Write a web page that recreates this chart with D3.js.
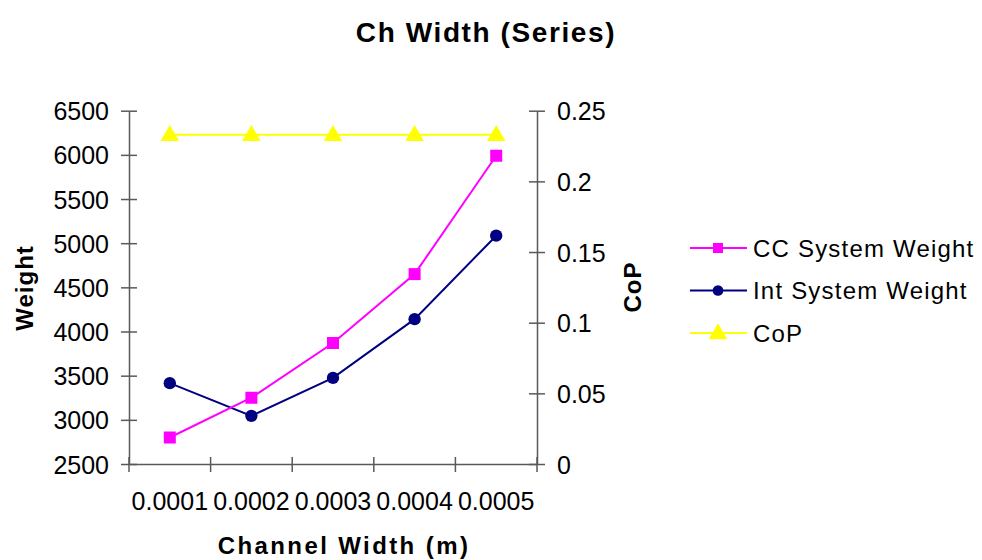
<!DOCTYPE html>
<html>
<head>
<meta charset="utf-8">
<script src="https://cdn.jsdelivr.net/npm/d3@7"></script>
<style>
  body { margin: 0; background: #fff; }
  svg { font-family: "Liberation Sans", Arial, sans-serif; }
</style>
</head>
<body>
<svg width="982" height="560"></svg>
<script>
// data
const widths = ["0.0001", "0.0002", "0.0003", "0.0004", "0.0005"];
const ccWeight = [2800, 3250, 3870, 4650, 5990];
const intWeight = [3415, 3045, 3475, 4140, 5085];
const cop = [0.233, 0.233, 0.233, 0.233, 0.233];
const weightTicks = [2500, 3000, 3500, 4000, 4500, 5000, 5500, 6000, 6500];
const copTicks = [0, 0.05, 0.1, 0.15, 0.2, 0.25];

const plot = { left: 129, right: 537, top: 110.7, bottom: 464 };
const axisColor = "#595959";

const svg = d3.select("svg");

const x = d3.scaleBand()
    .domain(widths)
    .range([plot.left, plot.right])
    .padding(0);

const yL = d3.scaleLinear()
    .domain([2500, 6500])
    .range([plot.bottom, plot.top]);

const yR = d3.scaleLinear()
    .domain([0, 0.25])
    .range([plot.bottom, plot.top]);

const cx = d => x(d) + x.bandwidth() / 2;

// title
svg.append("text")
    .attr("x", 486)
    .attr("y", 42)
    .attr("text-anchor", "middle")
    .style("font-size", "28px")
    .style("font-weight", "bold")
    .style("letter-spacing", "1.6px")
    .text("Ch Width (Series)");

function styleAxis(g, tickFrom, tickTo, vertical) {
    g.select(".domain").attr("stroke", axisColor).attr("stroke-width", 1.5);
    g.selectAll(".tick line")
        .attr("stroke", axisColor)
        .attr("stroke-width", 1.5)
        .attr(vertical ? "x1" : "y1", tickFrom)
        .attr(vertical ? "x2" : "y2", tickTo);
    g.selectAll(".tick text")
        .attr("fill", "#000")
        .style("font-size", "25px")
        .style("font-family", "'Liberation Sans', Arial, sans-serif");
}

// left axis
svg.append("g")
    .attr("transform", "translate(" + plot.left + ",0)")
    .call(d3.axisLeft(yL).tickValues(weightTicks).tickFormat(d3.format("d")).tickSize(8).tickPadding(12).tickSizeOuter(0))
    .call(g => styleAxis(g, -8, 8, true))
    .call(g => g.selectAll(".tick text").attr("dy", "0.36em"));

// right axis
svg.append("g")
    .attr("transform", "translate(" + plot.right + ",0)")
    .call(d3.axisRight(yR).tickValues(copTicks).tickFormat(d3.format("")).tickSize(8).tickPadding(12).tickSizeOuter(0))
    .call(g => styleAxis(g, -8, 8, true))
    .call(g => g.selectAll(".tick text").attr("dy", "0.36em"));

// bottom axis: labels at category centres, ticks at category edges
const xAxis = svg.append("g")
    .attr("transform", "translate(0," + plot.bottom + ")")
    .call(d3.axisBottom(x).tickSize(0).tickPadding(28).tickSizeOuter(0))
    .call(g => styleAxis(g, 0, 0, false));

xAxis.selectAll(".edge")
    .data(widths.map(d => x(d)).concat([x(widths[widths.length - 1]) + x.bandwidth()]))
    .enter()
    .append("line")
        .attr("class", "edge")
        .attr("x1", d => d)
        .attr("x2", d => d)
        .attr("y1", -7)
        .attr("y2", 8)
        .attr("stroke", axisColor)
        .attr("stroke-width", 1.5);

// axis titles
svg.append("text")
    .attr("transform", "translate(33,288) rotate(-90)")
    .attr("text-anchor", "middle")
    .style("font-size", "24px")
    .style("font-weight", "bold")
    .style("letter-spacing", "1px")
    .text("Weight");

svg.append("text")
    .attr("transform", "translate(641,287) rotate(-90)")
    .attr("text-anchor", "middle")
    .style("font-size", "24px")
    .style("font-weight", "bold")
    .style("letter-spacing", "1px")
    .text("CoP");

svg.append("text")
    .attr("x", 344)
    .attr("y", 554)
    .attr("text-anchor", "middle")
    .style("font-size", "24px")
    .style("font-weight", "bold")
    .style("letter-spacing", "2.4px")
    .text("Channel Width (m)");

// series
const series = [
    { name: "CC System Weight", values: ccWeight, scale: yL, color: "#FF00FF", shape: d3.symbolSquare, size: 144, legendSize: 100 },
    { name: "Int System Weight", values: intWeight, scale: yL, color: "#000080", shape: d3.symbolCircle, size: 120, legendSize: 90 },
    { name: "CoP", values: cop, scale: yR, color: "#FFFF00", shape: d3.symbolTriangle, size: 150, legendSize: 150 }
];

series.slice().reverse().forEach(s => {
    const pts = widths.map((w, i) => [cx(w), s.scale(s.values[i])]);
    svg.append("path")
        .datum(pts)
        .attr("fill", "none")
        .attr("stroke", s.color)
        .attr("stroke-width", 2)
        .attr("d", d3.line());
    svg.selectAll(null)
        .data(pts)
        .enter()
        .append("path")
            .attr("transform", d => "translate(" + d[0] + "," + (d[1] + (s.shape === d3.symbolTriangle ? 1 : 0)) + ")")
            .attr("d", d3.symbol().type(s.shape).size(s.size))
            .attr("fill", s.color);
});

// legend
const legend = svg.append("g");
series.forEach((s, i) => {
    const ly = 248 + i * 42.5;
    legend.append("line")
        .attr("x1", 690).attr("x2", 747)
        .attr("y1", ly).attr("y2", ly)
        .attr("stroke", s.color)
        .attr("stroke-width", 2);
    legend.append("path")
        .attr("transform", "translate(718," + (ly + (s.shape === d3.symbolTriangle ? 1 : 0)) + ")")
        .attr("d", d3.symbol().type(s.shape).size(s.legendSize))
        .attr("fill", s.color);
    legend.append("text")
        .attr("x", 753)
        .attr("y", ly)
        .attr("dy", "0.36em")
        .style("font-size", "24px")
        .style("letter-spacing", "1.2px")
        .text(s.name);
});
</script>
</body>
</html>
